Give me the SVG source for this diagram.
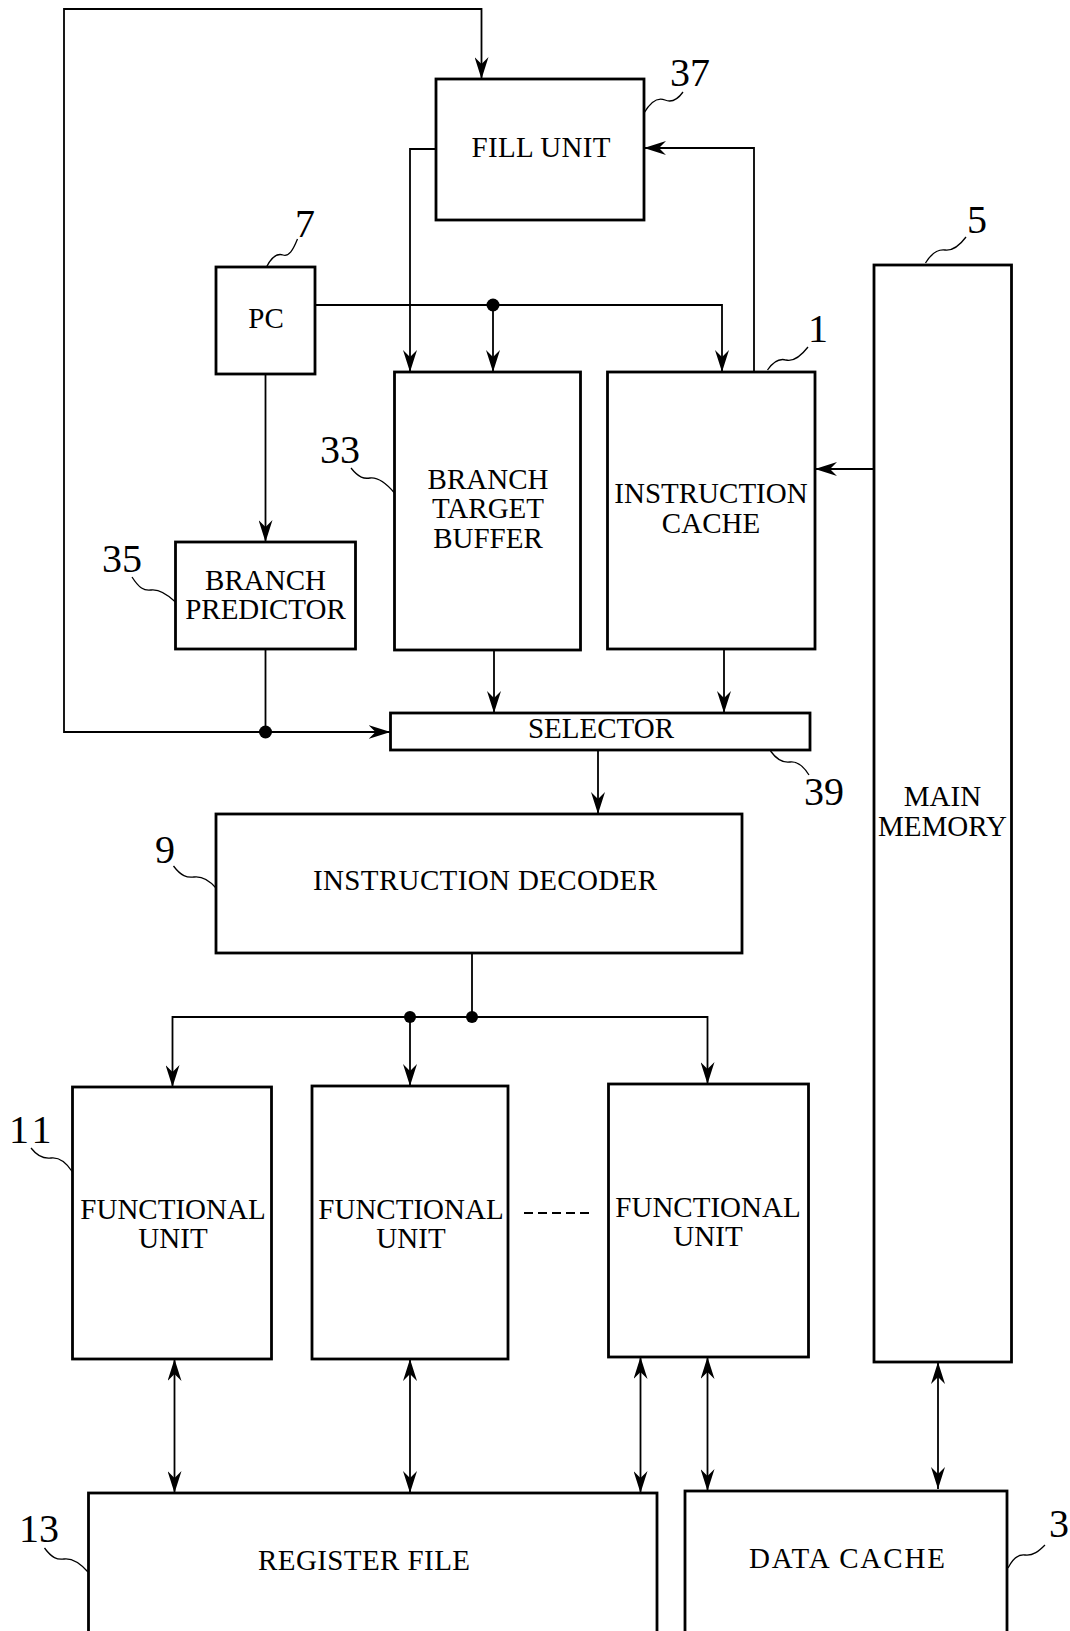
<svg xmlns="http://www.w3.org/2000/svg" width="1070" height="1631" viewBox="0 0 1070 1631">
<defs>
<style>
.box{fill:#fff;stroke:#000;stroke-width:2.8}
.ln{fill:none;stroke:#000;stroke-width:1.8}
.ld{fill:none;stroke:#000;stroke-width:1.3}
.t{font-family:"Liberation Serif","Times New Roman",serif;font-size:29px;fill:#000;text-anchor:middle}
.n{font-family:"Liberation Serif","Times New Roman",serif;font-size:40px;fill:#000}
</style>
<marker id="ah" viewBox="0 0 22 14" refX="22" refY="7" markerWidth="22" markerHeight="14" markerUnits="userSpaceOnUse" orient="auto-start-reverse">
<path d="M0,0 L22,7 L0,14 L7,7 Z" fill="#000"/>
</marker>
</defs>
<rect width="1070" height="1631" fill="#fff"/>

<g id="connectors">
<path class="ln" d="M265.5,649 V732 H390.5" marker-end="url(#ah)"/>
<path class="ln" d="M265.5,732 H64 V9 H481.5 V79" marker-end="url(#ah)"/>
<path class="ln" d="M265.5,374 V542" marker-end="url(#ah)"/>
<path class="ln" d="M315,305 H722 V372" marker-end="url(#ah)"/>
<path class="ln" d="M493,305 V372" marker-end="url(#ah)"/>
<path class="ln" d="M436,149 H410 V372" marker-end="url(#ah)"/>
<path class="ln" d="M754,372 V148 H644" marker-end="url(#ah)"/>
<path class="ln" d="M874,469 H815" marker-end="url(#ah)"/>
<path class="ln" d="M494,650 V713" marker-end="url(#ah)"/>
<path class="ln" d="M724,649 V713" marker-end="url(#ah)"/>
<path class="ln" d="M598,750 V814" marker-end="url(#ah)"/>
<path class="ln" d="M472,953 V1017 H172.5 V1087" marker-end="url(#ah)"/>
<path class="ln" d="M472,1017 H707.5 V1084" marker-end="url(#ah)"/>
<path class="ln" d="M410,1017 V1086" marker-end="url(#ah)"/>
<path class="ln" d="M174.5,1359 V1493" marker-start="url(#ah)" marker-end="url(#ah)"/>
<path class="ln" d="M410,1359 V1493" marker-start="url(#ah)" marker-end="url(#ah)"/>
<path class="ln" d="M640.5,1357 V1493" marker-start="url(#ah)" marker-end="url(#ah)"/>
<path class="ln" d="M707.5,1357 V1491" marker-start="url(#ah)" marker-end="url(#ah)"/>
<path class="ln" d="M938,1362 V1489" marker-start="url(#ah)" marker-end="url(#ah)"/>
<path class="ln" d="M524,1213 H592" stroke-dasharray="9,5"/>
<circle cx="493" cy="305" r="6.5"/>
<circle cx="265.5" cy="732" r="6.5"/>
<circle cx="472" cy="1017" r="6"/>
<circle cx="410" cy="1017" r="6"/>
</g>

<g id="fill-unit">
<rect class="box" x="436" y="79" width="208" height="141"/>
<text class="t" x="541" y="157" textLength="139" lengthAdjust="spacing">FILL UNIT</text>
<path class="ld" d="M644,113 C651,101 658,97 665,100 C672,103 678,99 683,92"/>
<text class="n" x="670" y="86">37</text>
</g>

<g id="pc">
<rect class="box" x="216" y="267" width="99" height="107"/>
<text class="t" x="266" y="328">PC</text>
<path class="ld" d="M266.5,267 C271,258 277,253 283,255 C289,257 293,250 297.5,239"/>
<text class="n" x="295" y="237">7</text>
</g>

<g id="branch-target-buffer">
<rect class="box" x="394.5" y="372" width="186" height="278"/>
<text class="t" x="488" y="489">BRANCH</text>
<text class="t" x="488" y="518">TARGET</text>
<text class="t" x="488" y="548">BUFFER</text>
<path class="ld" d="M351,468 C359,478 364,479 370,478 C378,477 386,483 394.5,493"/>
<text class="n" x="320" y="463">33</text>
</g>

<g id="instruction-cache">
<rect class="box" x="607.5" y="372" width="207.5" height="277"/>
<text class="t" x="711" y="503">INSTRUCTION</text>
<text class="t" x="711" y="533">CACHE</text>
<path class="ld" d="M767.5,370 C773,362 779,358 786,360 C794,362 801,356 808,347"/>
<text class="n" x="808" y="342">1</text>
</g>

<g id="main-memory">
<rect class="box" x="874" y="265" width="137.5" height="1097"/>
<text class="t" x="942.5" y="806">MAIN</text>
<text class="t" x="942.5" y="836">MEMORY</text>
<path class="ld" d="M925.5,263 C931,254 937,249 945,250 C953,251 960,245 966,237"/>
<text class="n" x="967" y="233">5</text>
</g>

<g id="branch-predictor">
<rect class="box" x="175.5" y="542" width="180" height="107"/>
<text class="t" x="265.5" y="590">BRANCH</text>
<text class="t" x="265.5" y="619">PREDICTOR</text>
<path class="ld" d="M132,577 C139,588 144,591 151,590 C159,589 167,594 175.5,602"/>
<text class="n" x="102" y="572">35</text>
</g>

<g id="selector">
<rect class="box" x="390.5" y="713" width="419.5" height="37"/>
<text class="t" x="601" y="738">SELECTOR</text>
<path class="ld" d="M770.5,751 C777,760 783,763 790,762 C798,761 804,767 809,775"/>
<text class="n" x="804" y="805">39</text>
</g>

<g id="instruction-decoder">
<rect class="box" x="216" y="814" width="526" height="139"/>
<text class="t" x="485" y="890" textLength="344" lengthAdjust="spacing">INSTRUCTION DECODER</text>
<path class="ld" d="M173.5,866 C181,876 187,878 194,877 C202,876 209,880 216,888"/>
<text class="n" x="155" y="863">9</text>
</g>

<g id="functional-unit-1">
<rect class="box" x="72.5" y="1087" width="199" height="272"/>
<text class="t" x="173" y="1219">FUNCTIONAL</text>
<text class="t" x="173" y="1248">UNIT</text>
<path class="ld" d="M31,1148 C38,1157 44,1159 51,1158 C59,1157 66,1162 72.5,1172"/>
<text class="n" x="9" y="1143" letter-spacing="4">11</text>
</g>

<g id="functional-unit-2">
<rect class="box" x="312" y="1086" width="196" height="273"/>
<text class="t" x="411" y="1219">FUNCTIONAL</text>
<text class="t" x="411" y="1248">UNIT</text>
</g>

<g id="functional-unit-3">
<rect class="box" x="608.5" y="1084" width="200" height="273"/>
<text class="t" x="708" y="1217">FUNCTIONAL</text>
<text class="t" x="708" y="1246">UNIT</text>
</g>

<g id="register-file">
<rect class="box" x="88.5" y="1493" width="568.5" height="160"/>
<text class="t" x="364" y="1570" textLength="212" lengthAdjust="spacing">REGISTER FILE</text>
<path class="ld" d="M44.5,1548 C52,1558 57,1560 64,1559 C72,1558 80,1563 88,1572"/>
<text class="n" x="19" y="1542">13</text>
</g>

<g id="data-cache">
<rect class="box" x="685" y="1491" width="322" height="160"/>
<text class="t" x="847" y="1568" textLength="196" lengthAdjust="spacing">DATA CACHE</text>
<path class="ld" d="M1008,1568 C1013,1558 1018,1554 1025,1555 C1033,1556 1039,1551 1045,1545"/>
<text class="n" x="1049" y="1537">3</text>
</g>
</svg>
